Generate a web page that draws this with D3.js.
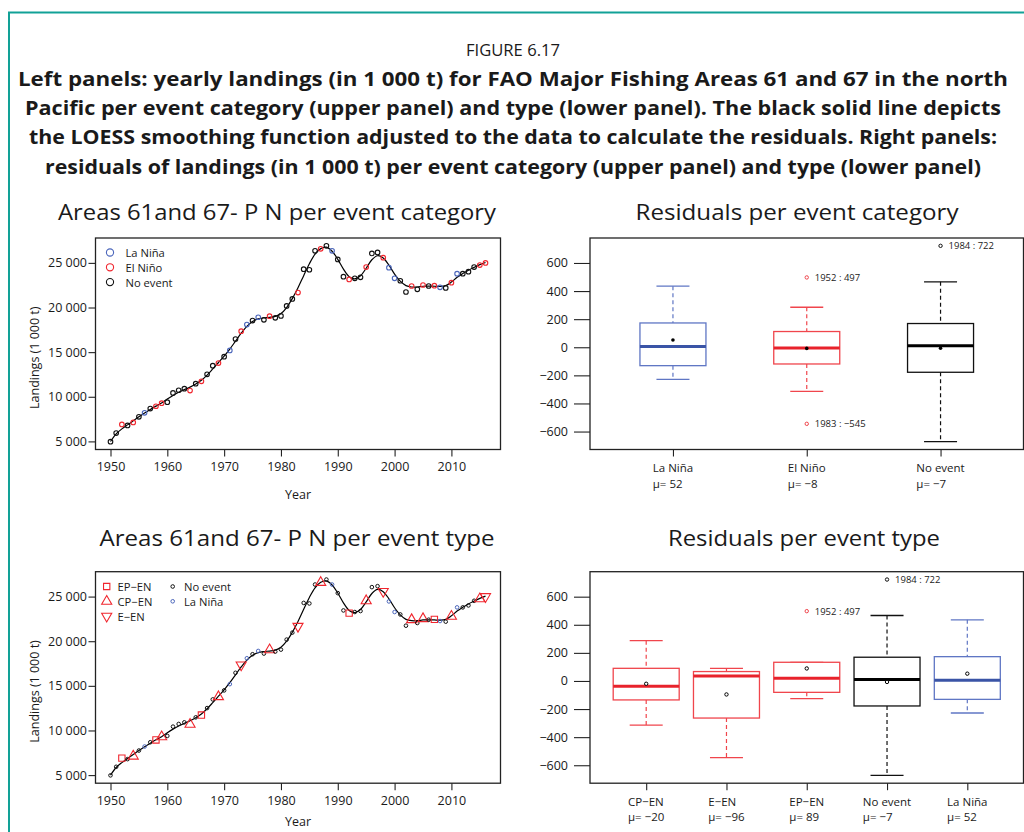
<!DOCTYPE html>
<html><head><meta charset="utf-8">
<script src="https://cdn.jsdelivr.net/npm/d3@7"></script>
<style>body{margin:0;background:#fff}svg{display:block}text{font-family:"Open Sans",sans-serif;fill:#1a1a1a}</style>
</head><body><svg id="c" width="1024" height="832"></svg>
<script>
// ---------------- DATA ----------------
const years = [1950,1951,1952,1953,1954,1955,1956,1957,1958,1959,1960,1961,1962,1963,1964,1965,1966,1967,1968,1969,
1970,1971,1972,1973,1974,1975,1976,1977,1978,1979,1980,1981,1982,1983,1984,1985,1986,1987,1988,1989,
1990,1991,1992,1993,1994,1995,1996,1997,1998,1999,2000,2001,2002,2003,2004,2005,2006,2007,2008,2009,
2010,2011,2012,2013,2014,2015,2016];
const landings = [4970,5930,6900,6790,7120,7750,8200,8680,8940,9280,9390,10430,10730,10910,10690,11470,11730,12510,13480,13780,
14490,15190,16460,17350,18090,18540,18910,18620,19030,18840,19060,20180,20960,21670,24290,24230,26350,26580,26910,26350,
25390,23450,23150,23270,23380,24530,26060,26170,25580,24460,23270,23000,21740,22410,22040,22520,22410,22450,22260,22190,
22780,23790,23790,24010,24530,24750,25000];
const loessFit = [4990,5850,6400,6850,7300,7750,8180,8580,8950,9300,9750,10150,10500,10800,11080,11420,11850,12430,13120,13840,
14560,15350,16230,17120,17880,18420,18720,18840,18900,19000,19320,20000,21000,22210,23570,24900,25980,26600,26760,26300,
25400,24300,23450,23200,23550,24400,25350,25800,25550,24750,23750,22950,22450,22300,22300,22380,22400,22380,22360,22450,
22850,23380,23800,24180,24500,24800,25050];
const elNinoYears = [1952,1954,1958,1959,1964,1966,1969,1973,1978,1983,1987,1992,1995,1998,2003,2005,2007,2010,2015,2016];
const laNinaYears = [1956,1971,1974,1976,1989,1999,2000,2008,2011];
const epEnYears = [1952,1958,1966,1992,2007];
const cpEnYears = [1954,1959,1964,1969,1978,1987,1995,2003,2005,2010,2015];
const eEnYears = [1973,1983,1998,2016];

const yearTicks = [1950,1960,1970,1980,1990,2000,2010];
const landingTicks = [5000,10000,15000,20000,25000];
const residualTicks = [-600,-400,-200,0,200,400,600];

// residual boxplots per event category
const catTop = ["La Niña","El Niño","No event"];
const lowTop = [-228,-314,-672];
const q1Top = [-131,-119,-178];
const medTop = [5,-5,10];
const q3Top = [173,112,169];
const highTop = [435,285,466];
const meanTop = [52,-8,-7];
const outTop = [[],[{y:1952,v:497},{y:1983,v:-545}],[{y:1984,v:722}]];

// residual boxplots per event type
const catBot = ["CP−EN","E−EN","EP−EN","No event","La Niña"];
const lowBot = [-314,-546,-126,-672,-228];
const q1Bot = [-135,-264,-81,-178,-131];
const medBot = [-38,36,19,10,5];
const q3Bot = [90,67,133,169,173];
const highBot = [287,90,133,466,435];
const meanBot = [-20,-96,89,-7,52];
const outBot = [[],[],[{y:1952,v:497}],[{y:1984,v:722}],[]];

// ---------------- STYLE ----------------
const RED = "#f0262e", BLUE = "#4b66bb", BLACK = "#111";
const catStyle = {
  "La Niña": {stroke:"#5f76c4", med:"#3a54a6"},
  "El Niño": {stroke:"#f0454c", med:"#e8222b"},
  "CP−EN": {stroke:"#f0454c", med:"#e8222b"},
  "E−EN": {stroke:"#f0454c", med:"#e8222b"},
  "EP−EN": {stroke:"#f0454c", med:"#e8222b"},
  "No event": {stroke:"#111", med:"#000"}
};

const svg = d3.select("#c");
svg.append("rect").attr("width",1024).attr("height",832).attr("fill","#fff");
svg.append("path").attr("d","M9,832 V12.5 H1024").attr("fill","none").attr("stroke","#12a197").attr("stroke-width",2);

// header
svg.append("text").attr("x",513).attr("y",49).attr("text-anchor","middle").attr("dominant-baseline","central")
  .attr("font-size",17).attr("textLength",94).attr("lengthAdjust","spacingAndGlyphs").text("FIGURE 6.17");
const caption = [
 ["Left panels: yearly landings (in 1 000 t) for FAO Major Fishing Areas 61 and 67 in the north", 78.5, 990],
 ["Pacific per event category (upper panel) and type (lower panel). The black solid line depicts", 108, 976],
 ["the LOESS smoothing function adjusted to the data to calculate the residuals. Right panels:", 137, 968],
 ["residuals of landings (in 1 000 t) per event category (upper panel) and type (lower panel)", 166.5, 936]
];
caption.forEach(c=>{
  svg.append("text").attr("x",513).attr("y",c[1]).attr("text-anchor","middle").attr("dominant-baseline","central")
   .attr("font-size",19).attr("font-weight","bold").attr("textLength",c[2]).attr("lengthAdjust","spacingAndGlyphs").text(c[0]);
});

function title(txt, cx, cy, w){
  svg.append("text").attr("x",cx).attr("y",cy).attr("text-anchor","middle").attr("dominant-baseline","central")
   .attr("font-size",21).attr("textLength",w).attr("lengthAdjust","spacingAndGlyphs").text(txt);
}
title("Areas 61and 67- P N per event category", 277, 212, 438);
title("Residuals per event category", 797, 212, 323);
title("Areas 61and 67- P N per event type", 297, 538, 395);
title("Residuals per event type", 804, 538, 272);

const fmtThousands = d => d3.format(",")(d).replace(/,/g," ");

function styleAxis(g){
  g.select(".domain").remove();
  g.selectAll(".tick line").attr("stroke","#222").attr("stroke-width",1.1);
  g.selectAll(".tick text").attr("font-size",12.5).attr("fill","#1a1a1a").style("font-family","'Open Sans',sans-serif");
}

// multi-line text block as one text element with tspans
function textBlock(g, x, ys, labels, size){
  const t = g.append("text").attr("font-size",size);
  labels.forEach((s,i)=>{
    t.append("tspan").attr("x",x).attr("y",ys[i]).attr("dominant-baseline","central").text(s);
  });
  return t;
}

// ---------------- LEFT PANELS ----------------
function leftPanel(top, byType, yearOffset){
  const L=95.5, R=500.5, T=top, B=top+211.5;
  const x = d3.scaleLinear().domain([1947.36,2018.64]).range([L,R]);
  const y = d3.scaleLinear().domain([4092,27788]).range([B,T]);
  const g = svg.append("g");
  g.append("g").attr("transform",`translate(0,${B})`)
    .call(d3.axisBottom(x).tickValues(yearTicks).tickSize(7).tickPadding(6).tickFormat(d3.format("d"))).call(styleAxis);
  g.append("g").attr("transform",`translate(${L},0)`)
    .call(d3.axisLeft(y).tickValues(landingTicks).tickSize(7).tickPadding(1.5).tickFormat(fmtThousands)).call(styleAxis);
  g.append("rect").attr("x",L).attr("y",T).attr("width",R-L).attr("height",B-T).attr("fill","none").attr("stroke","#222").attr("stroke-width",1.3);
  g.append("text").attr("x",(L+R)/2).attr("y",B+yearOffset).attr("text-anchor","middle").attr("dominant-baseline","central").attr("font-size",12.5).text("Year");
  g.append("text").attr("transform",`translate(34,${(T+B)/2+14}) rotate(-90)`).attr("text-anchor","middle").attr("dominant-baseline","central").attr("font-size",12.5).text("Landings (1 000 t)");

  const line = d3.line().x((d,i)=>x(years[i])).y(d=>y(d)).curve(d3.curveCatmullRom);
  g.append("path").attr("d",line(loessFit)).attr("fill","none").attr("stroke","#000").attr("stroke-width",1.2);

  const pts = years.map((yr,i)=>({yr, v:landings[i]}));
  if(!byType){
    const col = yr => elNinoYears.includes(yr)?RED:(laNinaYears.includes(yr)?BLUE:BLACK);
    g.selectAll(".p").data(pts).join("circle").attr("cx",d=>x(d.yr)).attr("cy",d=>y(d.v)).attr("r",2.3)
      .attr("fill","none").attr("stroke",d=>col(d.yr)).attr("stroke-width",1.1);
    const leg = [["La Niña",BLUE],["El Niño",RED],["No event",BLACK]];
    const ly = [252.5,267.3,282.1];
    leg.forEach((l,i)=>{
      g.append("circle").attr("cx",110).attr("cy",ly[i]).attr("r",3.6).attr("fill","none").attr("stroke",l[1]).attr("stroke-width",1.1);
    });
    textBlock(g, 125.5, ly, leg.map(l=>l[0]), 11.2);
  } else {
    const sq = d3.symbol().type(d3.symbolSquare).size(40);
    const tri = d3.symbol().type(d3.symbolTriangle).size(44);
    const drawSym = (sel, kind, cx, cy) => {
      if(kind==="EP") sel.append("path").attr("d",sq()).attr("transform",`translate(${cx},${cy})`);
      else if(kind==="CP") sel.append("path").attr("d",tri()).attr("transform",`translate(${cx},${cy})`);
      else sel.append("path").attr("d",tri()).attr("transform",`translate(${cx},${cy}) rotate(180)`);
    };
    pts.forEach(d=>{
      let kind = epEnYears.includes(d.yr)?"EP":cpEnYears.includes(d.yr)?"CP":eEnYears.includes(d.yr)?"E":null;
      if(kind){
        const s = g.append("g").attr("fill","none").attr("stroke",RED).attr("stroke-width",1.1);
        drawSym(s, kind, x(d.yr), y(d.v));
      } else {
        g.append("circle").attr("cx",x(d.yr)).attr("cy",y(d.v)).attr("r",1.8).attr("fill","none")
          .attr("stroke",laNinaYears.includes(d.yr)?BLUE:BLACK).attr("stroke-width",1);
      }
    });
    const ly = [T+14.8, T+29.6, T+44.4];
    const leg1 = [["EP−EN","EP"],["CP−EN","CP"],["E−EN","E"]];
    leg1.forEach((l,i)=>{
      const s = g.append("g").attr("fill","none").attr("stroke",RED).attr("stroke-width",1.1);
      drawSym(s, l[1], 106.7, ly[i]);
    });
    textBlock(g, 117.5, ly, leg1.map(l=>l[0]), 11.2);
    const leg2 = [["No event",BLACK],["La Niña",BLUE]];
    leg2.forEach((l,i)=>{
      g.append("circle").attr("cx",172.7).attr("cy",ly[i]).attr("r",1.8).attr("fill","none").attr("stroke",l[1]).attr("stroke-width",1);
    });
    textBlock(g, 184, ly.slice(0,2), leg2.map(l=>l[0]), 11.2);
  }
}
leftPanel(238, false, 45);
leftPanel(571.7, true, 38.5);

// ---------------- RIGHT PANELS ----------------
function boxPanel(top, cats, lo, q1, med, q3, hi, mu, outs, meanFilled){
  const L=590, R=1023.5, T=top, B=top+211.5;
  const n = cats.length;
  const x = d3.scaleLinear().domain([0.5-0.04*n, n+0.5+0.04*n]).range([L,R]);
  const y = d3.scaleLinear().domain([-727.8,777.8]).range([B,T]);
  const g = svg.append("g");
  g.append("g").attr("transform",`translate(${L},0)`)
    .call(d3.axisLeft(y).tickValues(residualTicks).tickSize(16).tickPadding(6).tickFormat(d=>d<0?"−"+Math.abs(d):String(d))).call(styleAxis);
  g.append("g").attr("transform",`translate(0,${B})`)
    .call(d3.axisBottom(x).tickValues(d3.range(1,n+1)).tickSize(7).tickFormat("")).call(styleAxis);
  g.append("rect").attr("x",L).attr("y",T).attr("width",R-L).attr("height",B-T).attr("fill","none").attr("stroke","#222").attr("stroke-width",1.3);
  const bw = 66, cw = 33;
  cats.forEach((c,i)=>{
    const cx = x(i+1), st = catStyle[c];
    const bg = g.append("g");
    bg.append("line").attr("x1",cx).attr("x2",cx).attr("y1",y(hi[i])).attr("y2",y(q3[i])).attr("stroke",st.stroke).attr("stroke-width",1.2).attr("stroke-dasharray","4,3");
    bg.append("line").attr("x1",cx).attr("x2",cx).attr("y1",y(q1[i])).attr("y2",y(lo[i])).attr("stroke",st.stroke).attr("stroke-width",1.2).attr("stroke-dasharray","4,3");
    bg.append("line").attr("x1",cx-cw/2).attr("x2",cx+cw/2).attr("y1",y(hi[i])).attr("y2",y(hi[i])).attr("stroke",st.stroke).attr("stroke-width",1.3);
    bg.append("line").attr("x1",cx-cw/2).attr("x2",cx+cw/2).attr("y1",y(lo[i])).attr("y2",y(lo[i])).attr("stroke",st.stroke).attr("stroke-width",1.3);
    bg.append("rect").attr("x",cx-bw/2).attr("y",y(q3[i])).attr("width",bw).attr("height",y(q1[i])-y(q3[i]))
      .attr("fill","#fff").attr("stroke",st.stroke).attr("stroke-width",1.3);
    bg.append("line").attr("x1",cx-bw/2).attr("x2",cx+bw/2).attr("y1",y(med[i])).attr("y2",y(med[i])).attr("stroke",st.med).attr("stroke-width",3);
    if(meanFilled) bg.append("circle").attr("cx",cx).attr("cy",y(mu[i])).attr("r",1.8).attr("fill","#000");
    else bg.append("circle").attr("cx",cx).attr("cy",y(mu[i])).attr("r",1.7).attr("fill","#fff").attr("stroke","#000").attr("stroke-width",1);
    outs[i].forEach(o=>{
      bg.append("circle").attr("cx",cx).attr("cy",y(o.v)).attr("r",1.7).attr("fill","none").attr("stroke",st.stroke).attr("stroke-width",1);
      bg.append("text").attr("x",cx+8).attr("y",y(o.v)).attr("dominant-baseline","central").attr("font-size",9.5)
        .text(o.y+" : "+(o.v<0?"−"+Math.abs(o.v):o.v));
    });
    // category label: one text, two left-aligned lines, block centred on the tick
    const lab = [c, "μ= "+(mu[i]<0?"−"+Math.abs(mu[i]):mu[i])];
    const t = textBlock(g, 0, [B+18, B+33.5], lab, 11.5);
    const w = d3.max(t.selectAll("tspan").nodes(), nd=>nd.getComputedTextLength());
    t.selectAll("tspan").attr("x", cx-w/2);
  });
}
boxPanel(238, catTop, lowTop, q1Top, medTop, q3Top, highTop, meanTop, outTop, true);
boxPanel(571.7, catBot, lowBot, q1Bot, medBot, q3Bot, highBot, meanBot, outBot, false);
</script></body></html>
